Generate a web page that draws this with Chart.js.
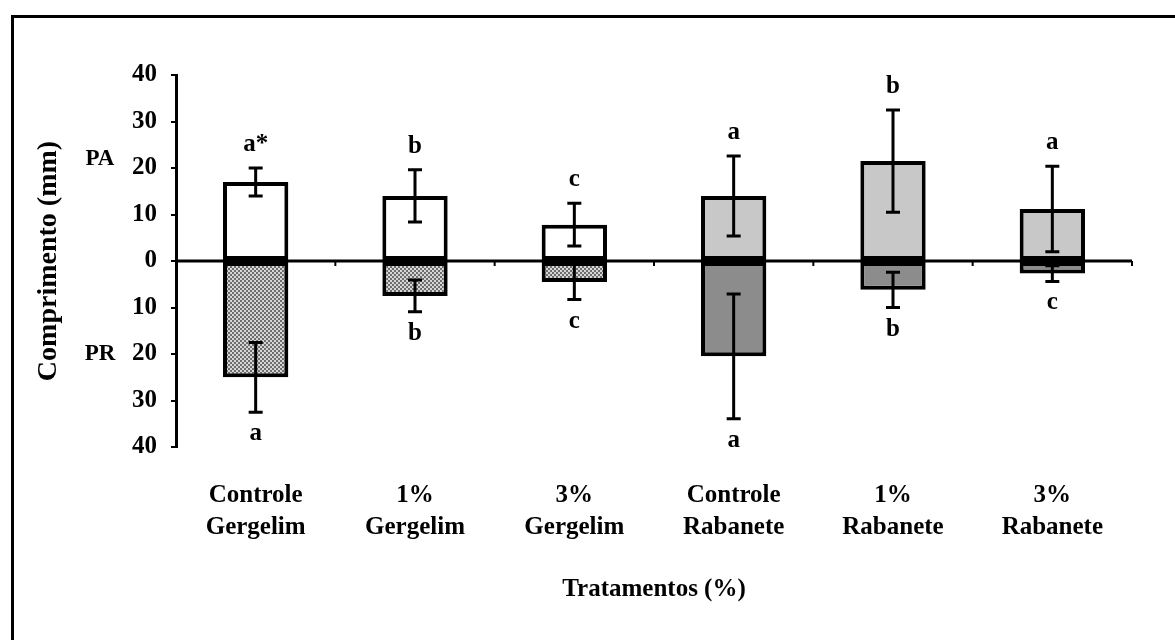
<!DOCTYPE html>
<html>
<head>
<meta charset="utf-8">
<script src="https://cdn.jsdelivr.net/npm/chart.js@4/dist/chart.umd.min.js"></script>
<style>
  html, body { margin: 0; padding: 0; background: #fff; }
  #wrap { position: relative; width: 1175px; height: 640px; }
</style>
</head>
<body>
<div id="wrap"><canvas id="chart" width="1175" height="640"></canvas></div>
<script>
        // Data
        const categories = [
            ['Controle', 'Gergelim'], ['1%', 'Gergelim'], ['3%', 'Gergelim'],
            ['Controle', 'Rabanete'], ['1%', 'Rabanete'], ['3%', 'Rabanete']
        ];
        const paValues = [17, 14, 7.8, 14, 21.5, 11.2];      // parte aérea (up)
        const paErrors = [3, 5.6, 4.6, 8.6, 11, 9.2];
        const prValues = [-25, -7.5, -4.5, -20.5, -6.2, -2.7]; // parte radicular (down)
        const prErrors = [7.5, 3.4, 3.8, 13.4, 3.8, 1.7];
        const paLetters = ['a*', 'b', 'c', 'a', 'b', 'a'];
        const prLetters = ['a', 'b', 'c', 'a', 'b', 'c'];
        const yTicks = [-40, -30, -20, -10, 0, 10, 20, 30, 40];

        const FONT = "'Liberation Serif', 'Times New Roman', serif";

        // checkered fill for the Gergelim roots
        function makePattern() {
            const c = document.createElement('canvas');
            c.width = 4; c.height = 4;
            const g = c.getContext('2d');
            g.fillStyle = '#d6d6d6';
            g.fillRect(0, 0, 4, 4);
            g.fillStyle = '#6e6e6e';
            g.fillRect(0, 0, 2, 2);
            g.fillRect(2, 2, 2, 2);
            return g.createPattern(c, 'repeat');
        }
        const dots = makePattern();

        const paColors = ['#ffffff', '#ffffff', '#ffffff', '#c8c8c8', '#c8c8c8', '#c8c8c8'];
        const prColors = [dots, dots, dots, '#8c8c8c', '#8c8c8c', '#8c8c8c'];

        // frame, zero line, error bars and letters
        const extras = {
            id: 'extras',
            beforeDraw(chart) {
                const ctx = chart.ctx;
                ctx.save();
                ctx.fillStyle = '#fff';
                ctx.fillRect(0, 0, chart.width, chart.height);
                ctx.strokeStyle = '#000';
                ctx.lineWidth = 3;
                ctx.beginPath();
                ctx.moveTo(12.5, chart.height + 5);
                ctx.lineTo(12.5, 16.5);
                ctx.lineTo(chart.width + 5, 16.5);
                ctx.stroke();
                ctx.restore();
            },
            afterDatasetsDraw(chart) {
                const ctx = chart.ctx;
                const xs = chart.scales.x;
                const ys = chart.scales.y;
                const area = chart.chartArea;
                const y0 = ys.getPixelForValue(0);
                ctx.save();
                ctx.strokeStyle = '#000';
                ctx.fillStyle = '#000';
                // zero line with small ticks between groups
                ctx.lineWidth = 3;
                ctx.beginPath();
                ctx.moveTo(area.left, y0);
                ctx.lineTo(area.right, y0);
                ctx.stroke();
                ctx.lineWidth = 2;
                for (let i = 0; i < categories.length; i++) {
                    const xb = xs.getPixelForValue(i + 0.5);
                    ctx.beginPath();
                    ctx.moveTo(xb, y0);
                    ctx.lineTo(xb, y0 + 5);
                    ctx.stroke();
                }
                // error bars
                ctx.lineWidth = 3;
                const cap = 7;
                function errBar(x, v, e) {
                    const a = ys.getPixelForValue(v + e);
                    const b = ys.getPixelForValue(v - e);
                    ctx.beginPath();
                    ctx.moveTo(x, a); ctx.lineTo(x, b);
                    ctx.moveTo(x - cap, a); ctx.lineTo(x + cap, a);
                    ctx.moveTo(x - cap, b); ctx.lineTo(x + cap, b);
                    ctx.stroke();
                }
                ctx.font = 'bold 25px ' + FONT;
                ctx.textAlign = 'center';
                ctx.textBaseline = 'alphabetic';
                for (let i = 0; i < categories.length; i++) {
                    const x = xs.getPixelForValue(i);
                    errBar(x, paValues[i], paErrors[i]);
                    errBar(x, prValues[i], prErrors[i]);
                    const topY = ys.getPixelForValue(paValues[i] + paErrors[i]);
                    ctx.fillText(paLetters[i], x, topY - 17);
                    const botY = ys.getPixelForValue(prValues[i] - prErrors[i]);
                    ctx.fillText(prLetters[i], x, botY + 28);
                }
                // PA / PR side labels
                ctx.font = 'bold 23px ' + FONT;
                ctx.textBaseline = 'middle';
                ctx.fillText('PA', area.left - 76, ys.getPixelForValue(22));
                ctx.fillText('PR', area.left - 76, ys.getPixelForValue(-20));
                ctx.restore();
            }
        };

        const ctx = document.getElementById('chart').getContext('2d');
        const chart = new Chart(ctx, {
            type: 'bar',
            data: {
                labels: categories,
                datasets: [{
                    label: 'PA',
                    data: paValues,
                    backgroundColor: paColors,
                    borderColor: '#000',
                    borderWidth: 4,
                    borderSkipped: false
                }, {
                    label: 'PR',
                    data: prValues,
                    backgroundColor: prColors,
                    borderColor: '#000',
                    borderWidth: 4,
                    borderSkipped: false
                }]
            },
            options: {
                responsive: false,
                animation: false,
                categoryPercentage: 1,
                barPercentage: 0.41,
                layout: { padding: { top: 75, right: 43, bottom: 0, left: 0 } },
                plugins: {
                    legend: { display: false },
                    tooltip: { enabled: false }
                },
                scales: {
                    x: {
                        stacked: true,
                        grid: { display: false },
                        border: { display: false },
                        ticks: {
                            color: '#000',
                            padding: 24,
                            maxRotation: 0,
                            font: { family: FONT, size: 25, weight: 'bold', lineHeight: 1.3 }
                        },
                        title: {
                            display: true,
                            text: 'Tratamentos (%)',
                            color: '#000',
                            font: { family: FONT, size: 25, weight: 'bold', lineHeight: 1.2 },
                            padding: { top: 39, bottom: 35 }
                        },
                        afterFit(scale) { scale.height = 193; }
                    },
                    y: {
                        stacked: true,
                        min: -40,
                        max: 40,
                        afterBuildTicks(scale) {
                            scale.ticks = yTicks.map(v => ({ value: v }));
                        },
                        grid: {
                            drawOnChartArea: false,
                            color: '#000',
                            lineWidth: 2,
                            tickLength: 5
                        },
                        border: { color: '#000', width: 3 },
                        ticks: {
                            color: '#000',
                            padding: 14,
                            font: { family: FONT, size: 25, weight: 'bold' },
                            callback: v => String(Math.abs(v))
                        },
                        title: {
                            display: true,
                            text: 'Comprimento (mm)',
                            color: '#000',
                            font: { family: FONT, size: 28, weight: 'bold', lineHeight: 1.2 },
                            padding: { top: 32, bottom: 0 }
                        },
                        afterFit(scale) { scale.width = 176; }
                    }
                }
            },
            plugins: [extras]
        });
</script>
</body>
</html>
